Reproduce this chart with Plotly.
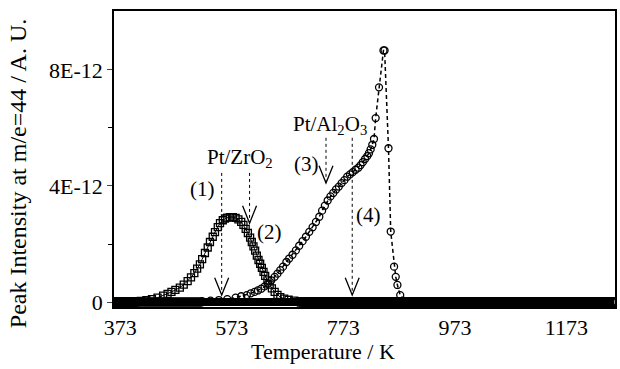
import numpy as np
import plotly.graph_objects as go

# ---------------- data ----------------
# Pt/ZrO2 (open squares): non-zero part of the TPD peak, T in K, intensity in 1E-12
zr_T = [400, 410, 420, 430, 440, 450, 458, 465, 472, 480, 487, 494, 500, 506, 511,
        516, 520, 525, 530, 534, 539, 543, 548, 552, 557, 561, 565, 570, 575, 580,
        585, 590, 594, 598, 602, 606, 609, 612, 615, 618, 621, 624, 627, 630, 633,
        637, 641, 645, 650, 655, 660, 667, 675, 685, 695]
zr_I = [0.02, 0.04, 0.07, 0.10, 0.15, 0.22, 0.28, 0.35, 0.42, 0.50, 0.60, 0.72, 0.85, 1.00, 1.15,
        1.30, 1.48, 1.69, 1.88, 2.07, 2.25, 2.41, 2.58, 2.72, 2.82, 2.88, 2.91, 2.93, 2.93, 2.90,
        2.85, 2.76, 2.66, 2.52, 2.38, 2.22, 2.07, 1.92, 1.77, 1.60, 1.45, 1.32, 1.18, 1.04, 0.90,
        0.75, 0.60, 0.47, 0.35, 0.25, 0.17, 0.12, 0.08, 0.05, 0.03]

# Pt/Al2O3 (open circles, dashed): non-zero part
al_T = [520, 535, 550, 565, 580, 590, 600, 607, 614, 620, 626, 632, 638, 644, 650,
        655, 660, 665, 671, 676, 682, 688, 694, 700, 706, 712, 718, 724, 730, 735,
        740, 745, 750, 755, 760, 765, 770, 775, 780, 785, 790, 795, 800, 804, 808,
        812, 816, 819, 822, 825, 828, 831, 837, 845, 847, 854, 858, 864, 867, 870,
        875, 880]
al_I = [0.03, 0.05, 0.07, 0.10, 0.15, 0.20, 0.24, 0.30, 0.35, 0.40, 0.46, 0.54, 0.64, 0.75, 0.87,
        0.98, 1.10, 1.22, 1.38, 1.50, 1.63, 1.78, 1.94, 2.10, 2.25, 2.42, 2.58, 2.76, 2.94, 3.15,
        3.32, 3.50, 3.64, 3.76, 3.88, 3.98, 4.10, 4.20, 4.32, 4.40, 4.48, 4.56, 4.63, 4.72, 4.82,
        4.93, 5.03, 5.13, 5.26, 5.42, 5.62, 6.34, 7.40, 8.67, 8.67, 5.30, 2.43, 1.22, 0.87, 0.59,
        0.24, 0.05]

# flat zero baseline recorded over the whole scan (the other sample's signal stays at 0)
base_T = np.arange(362, 1262, 4)

# arrows marking temperatures (1)-(4)
arrow_T = [555, 605, 742, 789]
arrow_top = [4.45, 4.45, 5.66, 5.66]
arrow_tip = [0.24, 2.72, 4.10, 0.24]

x_ticks = [373, 573, 773, 973, 1173]
y_ticks = [0, 4, 8]
y_ticktext = ["0", "4E-12", "8E-12"]

labels = [
    ("Pt/ZrO<sub>2</sub>", 587, 4.97),
    ("(1)", 521, 3.9),
    ("(2)", 641, 2.41),
    ("(3)", 707, 4.76),
    ("(4)", 818, 3.0),
    ("Pt/Al<sub>2</sub>O<sub>3</sub>", 750, 6.09),
]

SCALE = 1e-12
FONT = "Liberation Serif, Times New Roman, serif"

fig = go.Figure()

# baselines (zero readings across the whole temperature scan)
zr_base_T = [t for t in base_T if t < zr_T[0] or t > zr_T[-1]]
al_base_T = [t for t in base_T if t < al_T[0] or t > al_T[-1]]
both_base_T = list(base_T)

fig.add_trace(go.Scatter(
    x=both_base_T, y=[0 * SCALE] * len(both_base_T), mode="lines",
    line=dict(color="black", width=8),
    showlegend=False, hoverinfo="skip"))
fig.add_trace(go.Scatter(
    x=zr_base_T, y=[0 * SCALE] * len(zr_base_T), mode="markers",
    marker=dict(symbol="square-open", size=8, color="black", line=dict(width=1.5)),
    showlegend=False, hoverinfo="skip"))
fig.add_trace(go.Scatter(
    x=al_base_T, y=[0 * SCALE] * len(al_base_T), mode="markers",
    marker=dict(symbol="circle-open", size=8, color="black", line=dict(width=1.5)),
    showlegend=False, hoverinfo="skip"))

fig.add_trace(go.Scatter(
    x=zr_T, y=[v * SCALE for v in zr_I], mode="lines+markers",
    line=dict(color="black", width=1),
    marker=dict(symbol="square-open", size=7, color="black", line=dict(width=1.3)),
    name="Pt/ZrO2", showlegend=False))
fig.add_trace(go.Scatter(
    x=al_T, y=[v * SCALE for v in al_I], mode="lines+markers",
    line=dict(color="black", width=1.5, dash="4px,3px"),
    marker=dict(symbol="circle-open", size=7, color="black", line=dict(width=1.3)),
    name="Pt/Al2O3", showlegend=False))

# arrows
shapes = []
for t, top, tip in zip(arrow_T, arrow_top, arrow_tip):
    shapes.append(dict(type="line", xref="x", yref="y", x0=t, x1=t,
                       y0=top * SCALE, y1=tip * SCALE,
                       line=dict(color="black", width=1, dash="dot")))
    dx, dy = 12.5, 0.6
    path = (f"M {t - dx},{(tip + dy) * SCALE} L {t},{tip * SCALE} "
            f"L {t + dx},{(tip + dy) * SCALE}")
    shapes.append(dict(type="path", xref="x", yref="y", path=path,
                       line=dict(color="black", width=1.3)))

annotations = []
for txt, t, v in labels:
    annotations.append(dict(text=txt, x=t, y=v * SCALE, xref="x", yref="y",
                            showarrow=False, font=dict(family=FONT, size=21, color="black"),
                            xanchor="center", yanchor="middle"))

annotations.append(dict(text="Temperature / K", x=0.4175, y=-0.152, xref="paper", yref="paper",
                        showarrow=False, font=dict(family=FONT, size=22, color="black"),
                        xanchor="center", yanchor="middle"))
annotations.append(dict(text="Peak Intensity at m/e=44 / A. U.", x=-0.191, y=0.453,
                        xref="paper", yref="paper", textangle=-90,
                        showarrow=False, font=dict(family=FONT, size=24, color="black"),
                        xanchor="center", yanchor="middle"))

fig.update_layout(
    width=620, height=369,
    margin=dict(l=114, r=3, t=11, b=62),
    paper_bgcolor="white", plot_bgcolor="white",
    shapes=shapes, annotations=annotations,
    font=dict(family=FONT, size=22, color="black"),
)
fig.update_xaxes(range=[362, 1260], tickvals=x_ticks, ticktext=[str(v) for v in x_ticks],
                 showgrid=False, zeroline=False, showline=True, linecolor="black",
                 linewidth=1.5, mirror=True, ticks="", tickfont=dict(family=FONT, size=22))
fig.update_yaxes(range=[-0.17 * SCALE, 10.03 * SCALE],
                 tickvals=[v * SCALE for v in y_ticks], ticktext=y_ticktext,
                 showgrid=False, zeroline=False, showline=True, linecolor="black",
                 linewidth=1.5, mirror=True, ticks="outside", ticklen=5, tickwidth=1,
                 minor=dict(tickvals=[2 * SCALE, 6 * SCALE], ticks="outside", ticklen=4,
                            tickwidth=1, tickcolor="black"),
                 tickfont=dict(family=FONT, size=22))

fig.write_html("out.html")
